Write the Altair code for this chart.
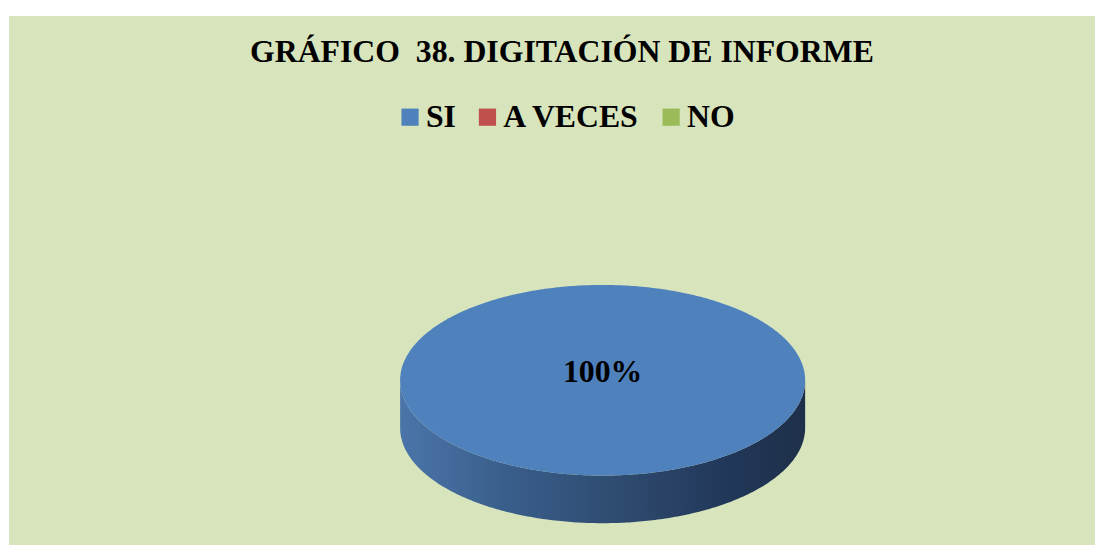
import altair as alt
import numpy as np
import pandas as pd

# ---- data ----
categories = ["SI", "A VECES", "NO"]
values = [100, 0, 0]
colors = ["#4F81BD", "#C0504D", "#9BBB59"]
title_text = "GRÁFICO\u00a0 38. DIGITACIÓN DE INFORME"

# ---- layout (pixel space of the plot area) ----
W, H = 1094, 533
cx, cy, rx, ry, depth = 598, 367, 204, 96, 48

total = sum(values)
theta = np.linspace(0, np.pi, 241)
xs = cx - rx * np.cos(theta)
half = ry * np.sin(theta)

rows_top = []
for cat, v in zip(categories, values):
    if total and v == total:
        for x, h in zip(xs, half):
            rows_top.append({"cat": cat, "x": x, "y": cy - h, "y2": cy + h})
top_df = pd.DataFrame(rows_top)
side_df = pd.DataFrame({"x": xs, "y": cy + half, "y2": cy + half + depth})
label_df = pd.DataFrame(
    [{"label": f"{v / total:.0%}", "x": cx, "y": cy - 8} for v in values if v > 0]
)

xsc = alt.Scale(domain=[0, W], nice=False, zero=False)
ysc = alt.Scale(domain=[0, H], nice=False, zero=False, reverse=True)

side = alt.Chart(side_df).mark_area(
    color=alt.Gradient(
        gradient="linear",
        stops=[
            alt.GradientStop(color="#4b75a9", offset=0),
            alt.GradientStop(color="#3a5f8c", offset=0.25),
            alt.GradientStop(color="#2e4a6f", offset=0.55),
            alt.GradientStop(color="#22385a", offset=0.8),
            alt.GradientStop(color="#1e3049", offset=1),
        ],
        x1=0, x2=1, y1=0, y2=0,
    )
).encode(
    x=alt.X("x:Q", scale=xsc, axis=None),
    y=alt.Y("y:Q", scale=ysc, axis=None),
    y2="y2:Q",
)

top = alt.Chart(top_df).mark_area().encode(
    x=alt.X("x:Q", scale=xsc, axis=None),
    y=alt.Y("y:Q", scale=ysc, axis=None),
    y2="y2:Q",
    color=alt.Color(
        "cat:N",
        scale=alt.Scale(domain=categories, range=colors),
        legend=alt.Legend(
            title=None,
            orient="none",
            legendX=388,
            legendY=86,
            direction="horizontal",
            symbolType="square",
            symbolSize=300,
            symbolStrokeWidth=0,
            symbolOpacity=1,
            labelFont="Liberation Serif",
            labelFontSize=32,
            labelFontWeight="bold",
            labelColor="black",
            labelOffset=0,
            columnPadding=15,
            padding=0,
            labelLimit=0,
        ),
    ),
)

label = alt.Chart(label_df).mark_text(
    font="Liberation Serif", fontSize=32, fontWeight="bold", color="black",
    align="center", baseline="middle",
).encode(
    x=alt.X("x:Q", scale=xsc, axis=None),
    y=alt.Y("y:Q", scale=ysc, axis=None),
    text="label:N",
)

chart = alt.layer(side, top, label).properties(
    width=W,
    height=H,
    autosize=alt.AutoSizeParams(type="none"),
    padding={"left": 1, "top": 6, "right": 0, "bottom": 0},
    background="white",
    title=alt.TitleParams(
        text=title_text,
        font="Liberation Serif",
        fontSize=32,
        fontWeight="bold",
        color="black",
        anchor="middle",
        baseline="alphabetic",
        offset=-78,
        dx=10,
    ),
).configure_view(fill="#D8E4BC", strokeWidth=0)

chart.save("out.html", embed_options={"renderer": "svg", "actions": False})
